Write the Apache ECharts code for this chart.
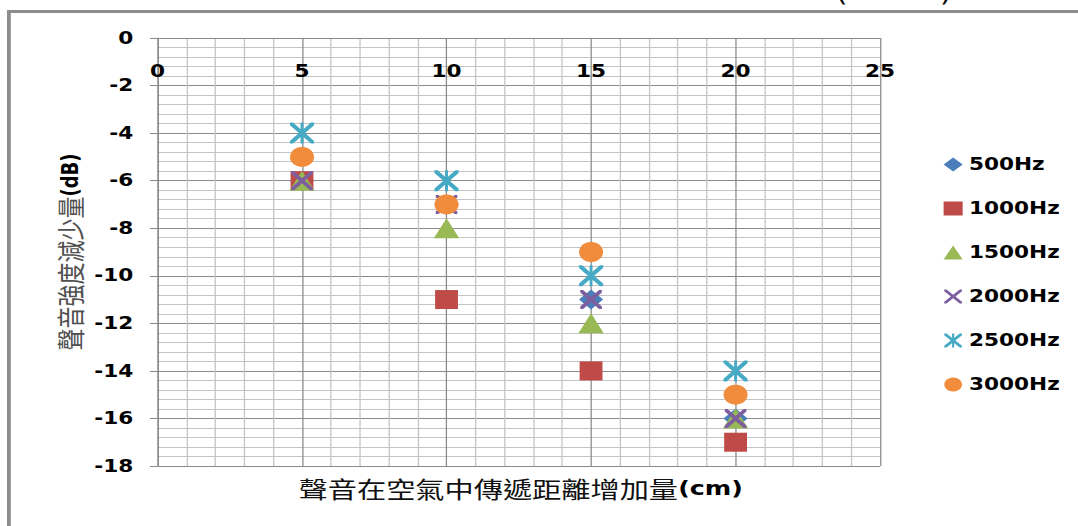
<!DOCTYPE html>
<html>
<head>
<meta charset="utf-8">
<script src="https://cdn.jsdelivr.net/npm/echarts@6/dist/echarts.min.js"></script>
<style>
html,body{margin:0;padding:0;background:#fff;overflow:hidden;width:1078px;height:526px;}
#wrap{width:1078px;height:526px;overflow:hidden;position:relative;}
#chart{width:849px;height:526px;transform:scaleX(1.27);transform-origin:0 0;}
</style>
</head>
<body>
<div id="wrap"><div id="chart"></div></div>
<script>
// ---- data ----
var distances = [5, 10, 15, 20];
var seriesNames = ['500Hz', '1000Hz', '1500Hz', '2000Hz', '2500Hz', '3000Hz'];
var s500  = [-6, -7, -11, -16];
var s1000 = [-6, -11, -14, -17];
var s1500 = [-6, -8, -12, -16];
var s2000 = [-6, -7, -11, -16];
var s2500 = [-4, -6, -10, -14];
var s3000 = [-5, -7, -9, -15];
var xTicks = [0, 5, 10, 15, 20, 25];
var yTicks = [0, -2, -4, -6, -8, -10, -12, -14, -16, -18];
var xTitle = '聲音在空氣中傳遞距離增加量';
var xUnit = '(cm)';
var yTitle = '聲音強度減少量';
var yUnit = '(dB)';

var values = [s500, s1000, s1500, s2000, s2500, s3000];
var colors = ['#4A7EBB', '#BE4B48', '#98B954', '#7D5FA0', '#46AAC5', '#F08C3C'];
var X_PATH = 'path://M0,0 L2.6,0 L10,7.4 L17.4,0 L20,0 L20,2.6 L12.6,10 L20,17.4 L20,20 L17.4,20 L10,12.6 L2.6,20 L0,20 L0,17.4 L7.4,10 L0,2.6 Z';
var STAR_PATH = 'path://M0,0 L2.6,0 L10,7.4 L17.4,0 L20,0 L20,2.6 L12.6,10 L20,17.4 L20,20 L17.4,20 L10,12.6 L2.6,20 L0,20 L0,17.4 L7.4,10 L0,2.6 Z M8.8,0 L11.2,0 L11.2,20 L8.8,20 Z';
var symbols = ['diamond', 'rect', 'triangle', X_PATH, STAR_PATH, 'circle'];
var sizes = [[19,20],[18,19],[20,20],[17,19],[19,21],[19,20]];

var chart = echarts.init(document.getElementById('chart'), null, {renderer: 'svg'});

var series = seriesNames.map(function (n, i) {
  return {
    name: n,
    type: 'scatter',
    symbol: symbols[i],
    symbolSize: sizes[i],
    itemStyle: {color: colors[i], opacity: 1},
    emphasis: {disabled: true},
    z: 2 + i,
    data: distances.map(function (d, k) { return [d, values[i][k]]; })
  };
});

var labelFont = 'DejaVu Sans';

chart.setOption({
  animation: false,
  grid: {left: 124, right: 156, top: 38, bottom: 60, containLabel: false},
  legend: {
    orient: 'vertical',
    left: 738,
    top: 151,
    itemWidth: 15,
    itemHeight: 14,
    itemGap: 27,
    selectedMode: false,
    textStyle: {fontFamily: labelFont, fontWeight: 'bold', fontSize: 17, color: '#000'},
    data: seriesNames.map(function (n, i) { return {name: n, icon: symbols[i]}; })
  },
  xAxis: {
    type: 'value',
    position: 'top',
    min: 0, max: 25, interval: 5,
    axisLine: {show: true, lineStyle: {color: '#8a8a8a', width: 1}},
    axisTick: {show: false},
    axisLabel: {
      inside: true, margin: 25,
      fontFamily: labelFont, fontWeight: 'bold', fontSize: 17, color: '#000',
      formatter: function (v) { return xTicks.indexOf(v) >= 0 ? String(v) : ''; }
    },
    splitLine: {show: true, lineStyle: {color: '#8a8a8a', width: 1}},
    minorTick: {show: false, splitNumber: 5},
    minorSplitLine: {show: true, lineStyle: {color: '#c4c4c4', width: 1}}
  },
  yAxis: {
    type: 'value',
    min: -18, max: 0, interval: 2,
    axisLine: {show: true, lineStyle: {color: '#8a8a8a', width: 1}},
    axisTick: {show: true, length: 6, lineStyle: {color: '#8a8a8a'}},
    axisLabel: {
      margin: 19,
      fontFamily: labelFont, fontWeight: 'bold', fontSize: 17, color: '#000',
      formatter: function (v) { return yTicks.indexOf(v) >= 0 ? String(v) : ''; }
    },
    splitLine: {show: true, lineStyle: {color: '#8a8a8a', width: 1}},
    minorTick: {show: false, splitNumber: 5},
    minorSplitLine: {show: true, lineStyle: {color: '#c4c4c4', width: 1}}
  },
  graphic: [
    {
      type: 'rect', silent: true, z: 0,
      shape: {x: 7, y: 11.5, width: 900, height: 600},
      style: {fill: 'none', stroke: '#8c8c8c', lineWidth: 3}
    },
    {
      type: 'text', silent: true,
      x: 658, y: -19,
      style: {text: '(', fontFamily: 'DejaVu Sans', fontSize: 24, fill: '#000'}
    },
    {
      type: 'text', silent: true,
      x: 740, y: -19,
      style: {text: ')', fontFamily: 'DejaVu Sans', fontSize: 24, fill: '#000'}
    },
    {
      type: 'text', silent: true,
      x: 410, y: 488,
      style: {
        text: '{a|' + xTitle + '}{b|' + xUnit + '}',
        align: 'center', verticalAlign: 'middle',
        rich: {
          a: {fontFamily: 'Noto Sans CJK TC', fontSize: 23, fill: '#111', color: '#111'},
          b: {fontFamily: 'DejaVu Sans', fontWeight: 'bold', fontSize: 20, fill: '#000', color: '#000'}
        }
      }
    },
    {
      type: 'text', silent: true,
      x: 55, y: 252, rotation: Math.PI / 2,
      style: {
        text: '{a|' + yTitle + '}{b|' + yUnit + '}',
        align: 'center', verticalAlign: 'middle',
        rich: {
          a: {fontFamily: 'Noto Sans CJK TC', fontSize: 22, fill: '#505050', color: '#505050'},
          b: {fontFamily: 'DejaVu Sans', fontWeight: 'bold', fontSize: 18, fill: '#000', color: '#000'}
        }
      }
    }
  ],
  series: series
});
</script>
</body>
</html>
